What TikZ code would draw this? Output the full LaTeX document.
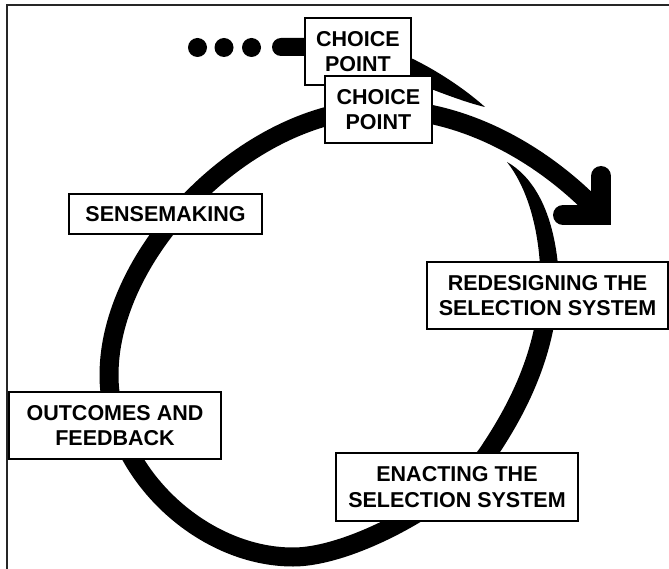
\documentclass[tikz,border=0pt]{standalone}
\usepackage{fontspec}
\setmainfont{Liberation Sans}
\begin{document}
\begin{tikzpicture}[x=1pt,y=-1pt,
  stage/.style={draw=black, line width=1.8pt, fill=white, align=center,
    inner sep=0pt, font=\fontsize{21.5}{25.5}\selectfont\bfseries},
  ring/.style={line width=19pt, line cap=butt, line join=round},
  tip/.style={line width=20pt, line cap=round, line join=miter},
]
\useasboundingbox (0,0) rectangle (669,569);

% frame edges
\draw[line width=2pt, black!85] (669,5) -- (7,5) -- (7,569);

% the cycle: starts thin on the right, runs clockwise and ends in an arrow
\coordinate (start) at (549,262);
\coordinate (head) at (601,215);
\fill (507,162) .. controls (530,175) and (552,205) .. (558,265)
  -- (540,265) .. controls (537,220) and (525,185) .. (507,162) -- cycle;
\draw[ring] (start) .. controls (552,330) and (530,390) .. (490,450)
  .. controls (462,495) and (355,557) .. (293,557)
  .. controls (200,557) and (109,470) .. (109,375)
  .. controls (109,250) and (250,109) .. (380,109)
  .. controls (470,109) and (550,160) .. (head);
\draw[tip] (601,176) -- (head) -- (563,215);

% the earlier cycle coming in from the left and tapering off
\fill (281,38) -- (345,38) .. controls (395,42) and (455,80) .. (485,107)
  .. controls (455,100) and (410,80) .. (345,56) -- (281,56) arc (90:270:9) -- cycle;
\fill (197.5,47.5) circle (9.5) (224,47.5) circle (9.5) (251.5,47.5) circle (9.5);

% stages
\node[stage, minimum width=106pt, minimum height=67pt] (cp1) at (358,51.5) {CHOICE\\POINT};
\node[stage, minimum width=107pt, minimum height=67pt] (cp2) at (378.5,109.5) {CHOICE\\POINT};
\node[stage, minimum width=193pt, minimum height=40pt] (sense) at (165.5,214) {SENSEMAKING};
\node[stage, minimum width=241pt, minimum height=67pt] (redesign) at (547.5,295.5) {REDESIGNING THE\\SELECTION SYSTEM};
\node[stage, minimum width=212pt, minimum height=67pt] (outcomes) at (115,425.5) {OUTCOMES AND\\FEEDBACK};
\node[stage, minimum width=242pt, minimum height=68pt] (enact) at (457,487) {ENACTING THE\\SELECTION SYSTEM};
\end{tikzpicture}
\end{document}
